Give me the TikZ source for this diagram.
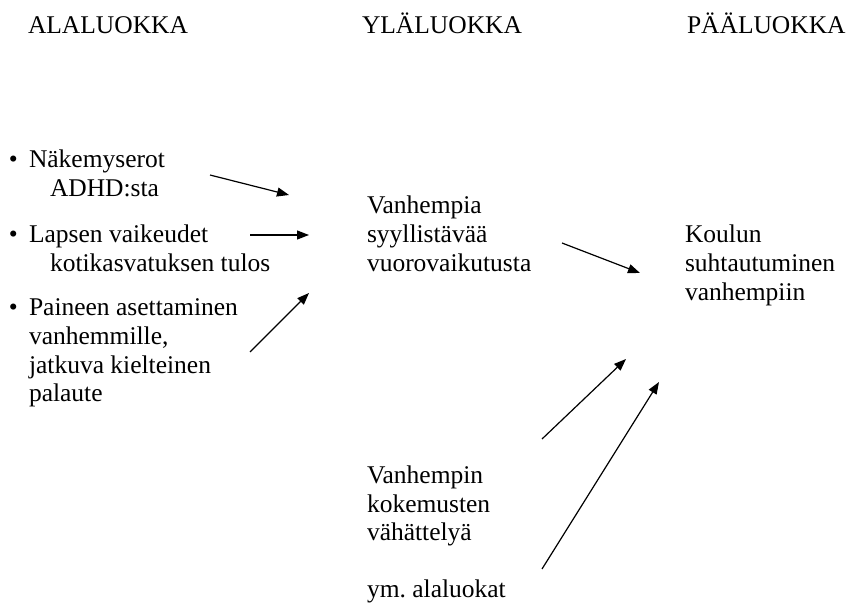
\documentclass[tikz,border=0pt]{standalone}
\usepackage{fontspec}
\setmainfont{Liberation Serif}
\usetikzlibrary{arrows.meta}
\frenchspacing
\tikzset{
  txt/.style={anchor=base west, inner sep=0pt, outer sep=0pt, font=\fontsize{25.5}{29}\selectfont},
  arr/.style={-{Triangle[length=12pt,width=9pt]}, line width=1.2pt}
}
\begin{document}
\begin{tikzpicture}[x=1pt,y=-1pt]
\useasboundingbox (0,0) rectangle (849,604);
% headers
\node[txt] (h1) at (28,34) {ALALUOKKA};
\node[txt] (h2) at (362,34) {YLÄLUOKKA};
\node[txt] (h3) at (687,34) {PÄÄLUOKKA};
% left column
\node[txt] (b1) at (9,168) {•};
\node[txt] (l1a) at (29,168) {Näkemyserot};
\node[txt] (l1b) at (50,197) {ADHD:sta};
\node[txt] (b2) at (9,243) {•};
\node[txt] (l2a) at (29,243) {Lapsen vaikeudet};
\node[txt] (l2b) at (50,272) {kotikasvatuksen tulos};
\node[txt] (b3) at (9,316) {•};
\node[txt] (l3a) at (29,316) {Paineen asettaminen};
\node[txt] (l3b) at (29,344) {vanhemmille,};
\node[txt] (l3c) at (29,373) {jatkuva kielteinen};
\node[txt] (l3d) at (29,401) {palaute};
% middle column
\node[txt] (m1) at (367,214) {Vanhempia};
\node[txt] (m2) at (367,243) {syyllistävää};
\node[txt] (m3) at (367,272) {vuorovaikutusta};
\node[txt] (v1) at (367,483) {Vanhempin};
\node[txt] (v2) at (367,512) {kokemusten};
\node[txt] (v3) at (367,540) {vähättelyä};
\node[txt] (y1) at (367,597) {ym.\ alaluokat};
% right column
\node[txt] (k1) at (685,243) {Koulun};
\node[txt] (k2) at (685,272) {suhtautuminen};
\node[txt] (k3) at (685,301) {vanhempiin};
% arrow end points
\coordinate (a1s) at (210,175); \coordinate (a1e) at (289,195);
\coordinate (a2s) at (250,235); \coordinate (a2e) at (309,235);
\coordinate (a3s) at (250,352); \coordinate (a3e) at (309,293);
\coordinate (a4s) at (562,243); \coordinate (a4e) at (640,273);
\coordinate (a5s) at (542,439); \coordinate (a5e) at (626,359);
\coordinate (a6s) at (542,569); \coordinate (a6e) at (659,382);
\draw[arr] (a1s) -- (a1e);
\draw[arr] (a2s) -- (a2e);
\draw[arr] (a3s) -- (a3e);
\draw[arr] (a4s) -- (a4e);
\draw[arr] (a5s) -- (a5e);
\draw[arr] (a6s) -- (a6e);
\end{tikzpicture}
\end{document}
